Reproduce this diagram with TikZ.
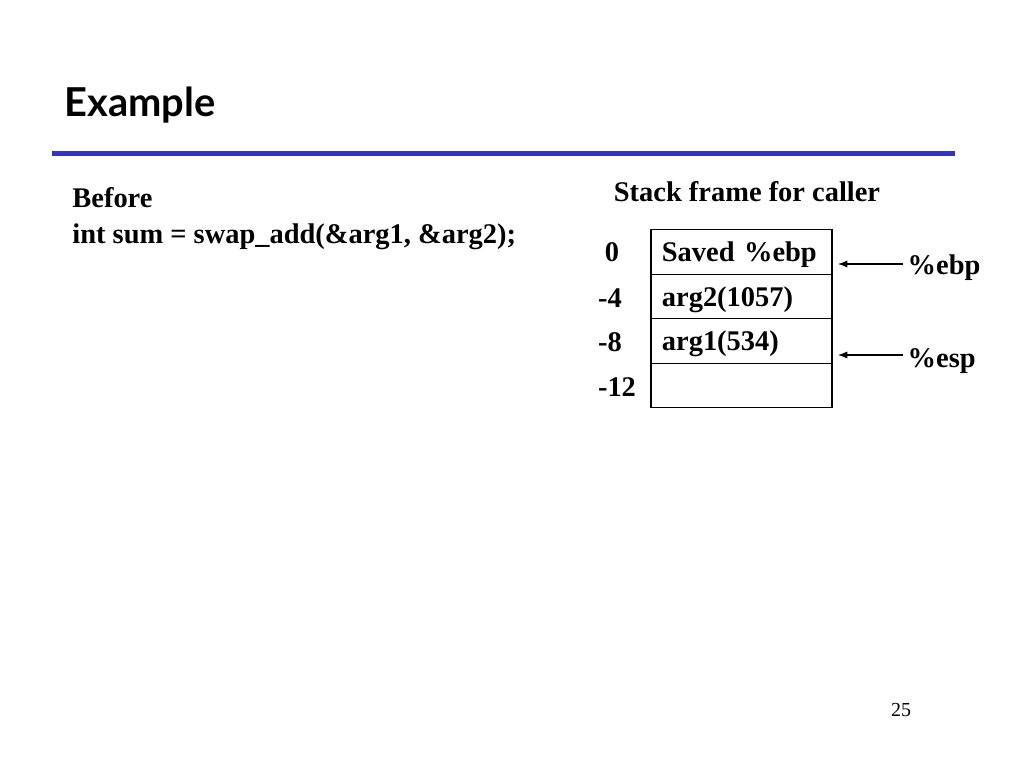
\documentclass[tikz,border=0pt]{standalone}
\usepackage{fontspec}
\setmainfont{Liberation Serif}
\newfontfamily\titlefont{Lato}
\usetikzlibrary{positioning,arrows.meta}
\definecolor{rulebl}{RGB}{51,51,204}

\begin{document}
\begin{tikzpicture}[x=0.703125pt,y=-0.703125pt,
    semithick,
    body/.style={anchor=base west,inner sep=0pt,font=\fontsize{20}{24}\selectfont\bfseries},
    slot/.style={rectangle,draw,line width=1pt,minimum width=127.3pt,minimum height=31.3pt,
      text width=111.9pt,inner xsep=7.7pt,align=left,text height=15pt,text depth=1pt,
      font=\fontsize{20}{24}\selectfont\bfseries},
    offs/.style={anchor=base,inner sep=0pt,font=\fontsize{20}{24}\selectfont\bfseries},
    reg/.style={anchor=base west,inner xsep=3pt,inner ysep=0pt,font=\fontsize{20}{24}\selectfont\bfseries},
    ptr/.style={-{Latex[length=6.5pt,width=5pt]},line width=0.8pt}
    ]
\useasboundingbox (0,0) rectangle (1024,768);

\node[anchor=base west,inner sep=0pt,font=\titlefont\bfseries\fontsize{28}{32}\selectfont] (T) at (64,117) {Example};
\draw[rulebl,line width=3.5pt] (52,153.5) coordinate (R1) -- (955,153.5) coordinate (R2);

\node[body] (B) at (72,208) {Before};
\node[body] (C) at (72,244) {int sum = swap\_add(\&arg1, \&arg2);};

\node[offs] (H) at (747,202) {Stack frame for caller};

\node[slot] (S0) at (741.5,252) {Saved \%ebp};
\node[slot] (S1) at (741.5,296.5) {arg2(1057)};
\node[slot] (S2) at (741.5,341) {arg1(534)};
\node[slot] (S3) at (741.5,385.5) {};

\node[offs] (O0) at (612,262) {0};
\node[offs] (O1) at (610,307) {-4};
\node[offs] (O2) at (610,351) {-8};
\node[offs] (O3) at (617,396) {-12};

\node[reg] (ebp) at (903,275) {\%ebp};
\node[reg] (esp) at (903,367) {\%esp};
\coordinate (ebptip) at (838,264);
\coordinate (esptip) at (838,355);
\draw[ptr] (ebp.west |- ebptip) -- (ebptip);
\draw[ptr] (esp.west |- esptip) -- (esptip);

\node[anchor=base,inner sep=0pt,font=\fontsize{14}{16}\selectfont] (P) at (901,716) {25};
\end{tikzpicture}
\end{document}
